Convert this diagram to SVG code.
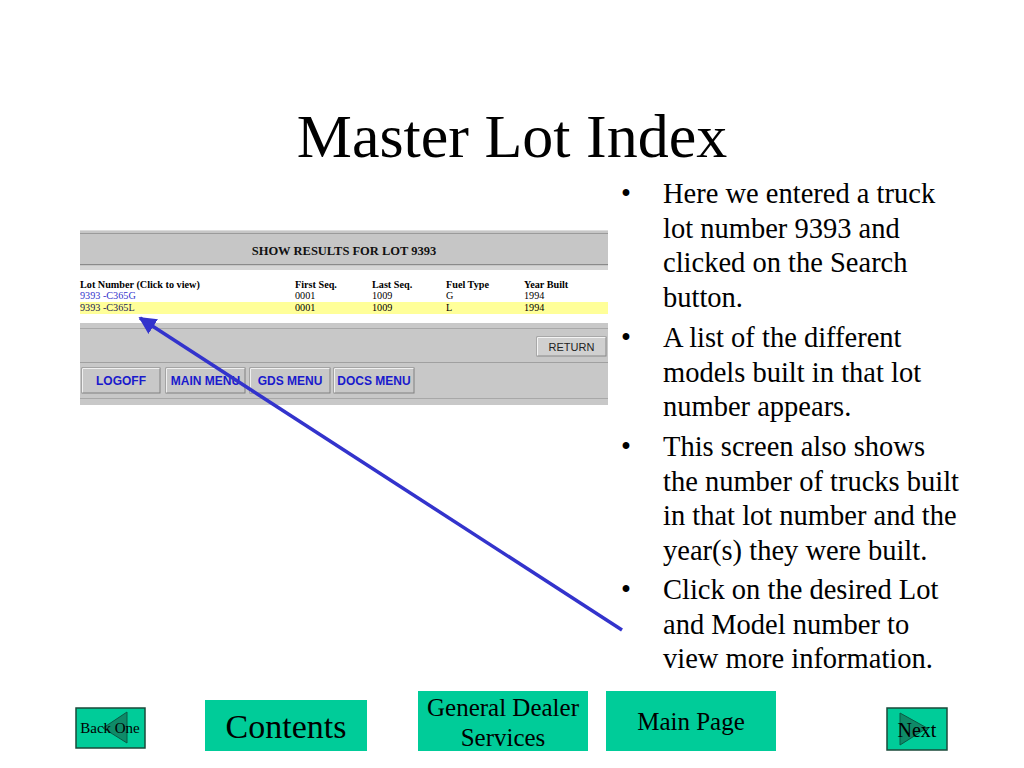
<svg xmlns="http://www.w3.org/2000/svg" width="1024" height="768" viewBox="0 0 1024 768">
<defs>
<style>
.title{font-family:"Liberation Serif",serif;font-size:62px;fill:#000}
.bul{font-family:"Liberation Serif",serif;font-size:28.5px;fill:#000}
.th{font-family:"Liberation Serif",serif;font-size:10.2px;font-weight:bold;fill:#000}
.td{font-family:"Liberation Serif",serif;font-size:10.2px;fill:#000}
.lnk{font-family:"Liberation Serif",serif;font-size:10.2px;fill:#3333cc}
.btn{font-family:"Liberation Sans",sans-serif;font-size:12px;font-weight:bold;fill:#1a1acc}
.nav{fill:#00cc99}
.navb{fill:#00cc99;stroke:#1a4a3a;stroke-width:1.5}
.tri{fill:#0f8a68;stroke:#0a5a44;stroke-width:1}
.navt{font-family:"Liberation Serif",serif;fill:#000}
</style>
<marker id="ah" viewBox="0 0 10 10" refX="9" refY="5" markerWidth="5" markerHeight="5" orient="auto" markerUnits="strokeWidth">
<path d="M0,0 L10,5 L0,10 z" fill="#3333cc"/>
</marker>
</defs>
<rect width="1024" height="768" fill="#fff"/>
<text class="title" x="512" y="157" text-anchor="middle">Master Lot Index</text>

<g id="screenshot">
<rect x="80" y="230" width="528" height="36" fill="#c6c6c6"/>
<line x1="80" y1="230.5" x2="608" y2="230.5" stroke="#dcdcdc"/>
<line x1="80" y1="233.5" x2="608" y2="233.5" stroke="#9a9a9a"/>
<line x1="80" y1="264.5" x2="608" y2="264.5" stroke="#8a8a8a"/>
<rect x="80" y="266" width="528" height="4" fill="#d6d6d6"/>
<text x="344" y="255" text-anchor="middle" style="font-family:'Liberation Serif',serif;font-size:12.5px;font-weight:bold;fill:#111">SHOW RESULTS FOR LOT 9393</text>
<rect x="80" y="302" width="528" height="12" fill="#ffff99"/>
<text class="th" x="80" y="288">Lot Number (Click to view)</text>
<text class="th" x="295" y="288">First Seq.</text>
<text class="th" x="372" y="288">Last Seq.</text>
<text class="th" x="446" y="288">Fuel Type</text>
<text class="th" x="524" y="288">Year Built</text>
<text class="lnk" x="80" y="299">9393 -C365G</text>
<text class="td" x="295" y="299">0001</text>
<text class="td" x="372" y="299">1009</text>
<text class="td" x="446" y="299">G</text>
<text class="td" x="524" y="299">1994</text>
<text class="td" x="80" y="311" style="fill:#1a1a55">9393 -C365L</text>
<text class="td" x="295" y="311">0001</text>
<text class="td" x="372" y="311">1009</text>
<text class="td" x="446" y="311">L</text>
<text class="td" x="524" y="311">1994</text>
<rect x="80" y="323" width="528" height="82" fill="#c8c8c8"/>
<line x1="80" y1="328.5" x2="608" y2="328.5" stroke="#a8a8a8"/>
<line x1="80" y1="362.5" x2="608" y2="362.5" stroke="#a0a0a0"/>
<line x1="80" y1="398.5" x2="608" y2="398.5" stroke="#a8a8a8"/>
<g id="btn-return">
<rect x="537" y="337" width="69" height="19" fill="#d0d0d0" stroke="#888"/>
<path d="M537.5,355.5 V337.5 H605.5" fill="none" stroke="#f4f4f4"/>
<text x="571.5" y="351" text-anchor="middle" style="font-family:'Liberation Sans',sans-serif;font-size:11px;fill:#222">RETURN</text>
</g>
<g id="btn-logoff">
<rect x="82" y="368" width="78" height="25" fill="#c8c8c8" stroke="#808080"/>
<path d="M82.5,392.5 V368.5 H159.5" fill="none" stroke="#f0f0f0"/>
<text class="btn" x="121" y="385" text-anchor="middle">LOGOFF</text>
</g>
<g id="btn-main">
<rect x="166" y="368" width="79" height="25" fill="#c8c8c8" stroke="#808080"/>
<path d="M166.5,392.5 V368.5 H244.5" fill="none" stroke="#f0f0f0"/>
<text class="btn" x="205.5" y="385" text-anchor="middle">MAIN MENU</text>
</g>
<g id="btn-gds">
<rect x="250" y="368" width="80" height="25" fill="#c8c8c8" stroke="#808080"/>
<path d="M250.5,392.5 V368.5 H329.5" fill="none" stroke="#f0f0f0"/>
<text class="btn" x="290" y="385" text-anchor="middle">GDS MENU</text>
</g>
<g id="btn-docs">
<rect x="334" y="368" width="80" height="25" fill="#c8c8c8" stroke="#808080"/>
<path d="M334.5,392.5 V368.5 H413.5" fill="none" stroke="#f0f0f0"/>
<text class="btn" x="374" y="385" text-anchor="middle">DOCS MENU</text>
</g>
</g>

<g id="bullets">
<text class="bul" x="621" y="203">•</text>
<text class="bul" x="663" y="203">Here we entered a truck</text>
<text class="bul" x="663" y="238">lot number 9393 and</text>
<text class="bul" x="663" y="272">clicked on the Search</text>
<text class="bul" x="663" y="307">button.</text>
<text class="bul" x="621" y="347">•</text>
<text class="bul" x="663" y="347">A list of the different</text>
<text class="bul" x="663" y="382">models built in that lot</text>
<text class="bul" x="663" y="416">number appears.</text>
<text class="bul" x="621" y="456">•</text>
<text class="bul" x="663" y="456">This screen also shows</text>
<text class="bul" x="663" y="491">the number of trucks built</text>
<text class="bul" x="663" y="525">in that lot number and the</text>
<text class="bul" x="663" y="560">year(s) they were built.</text>
<text class="bul" x="621" y="599">•</text>
<text class="bul" x="663" y="599">Click on the desired Lot</text>
<text class="bul" x="663" y="634">and Model number to</text>
<text class="bul" x="663" y="668">view more information.</text>
</g>

<g id="connectors">
<line x1="622" y1="630" x2="140" y2="318" stroke="#3333cc" stroke-width="3.5" marker-end="url(#ah)"/>
</g>

<g id="nav-back">
<rect class="navb" x="76" y="708" width="69" height="40"/>
<polygon class="tri" points="103,728 127,712 127,743"/>
<text class="navt" x="110" y="733" text-anchor="middle" font-size="15">Back One</text>
</g>
<g id="nav-contents">
<rect class="nav" x="205" y="700" width="162" height="51"/>
<text class="navt" x="286" y="738" text-anchor="middle" font-size="34">Contents</text>
</g>
<g id="nav-gds">
<rect class="nav" x="418" y="691" width="170" height="60"/>
<text class="navt" x="503" y="716" text-anchor="middle" font-size="25">General Dealer</text>
<text class="navt" x="503" y="746" text-anchor="middle" font-size="25">Services</text>
</g>
<g id="nav-main">
<rect class="nav" x="606" y="691" width="170" height="60"/>
<text class="navt" x="691" y="730" text-anchor="middle" font-size="25">Main Page</text>
</g>
<g id="nav-next">
<rect class="navb" x="887" y="708" width="60" height="42"/>
<polygon class="tri" points="900,713 927,728 900,745"/>
<text class="navt" x="917" y="737" text-anchor="middle" font-size="20">Next</text>
</g>
</svg>
